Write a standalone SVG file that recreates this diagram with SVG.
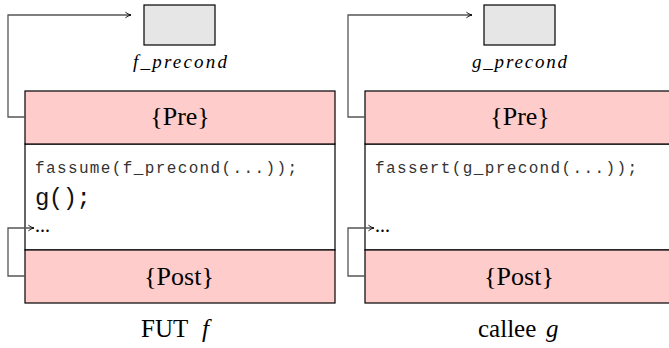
<svg xmlns="http://www.w3.org/2000/svg" width="669" height="348" viewBox="0 0 669 348">
<defs>
<marker id="arr" viewBox="0 0 10 10" refX="9" refY="5" markerWidth="8" markerHeight="8" markerUnits="userSpaceOnUse" orient="auto">
<path d="M2,1.5 Q5,4 9,5 Q5,6 2,8.5" fill="none" stroke="#000" stroke-width="1.1"/>
</marker>
<style>
.band{fill:#ffcccc;stroke:#000;stroke-width:1.2}
.body{fill:#fff;stroke:#000;stroke-width:1.2}
.grey{fill:#e6e6e6;stroke:#000;stroke-width:1.2}
.conn{fill:none;stroke:#555;stroke-width:1.3;marker-end:url(#arr)}
.tm{font-family:"Liberation Serif",serif;font-size:26px;fill:#000;text-anchor:middle}
.cap{font-family:"Liberation Serif",serif;font-size:25px;fill:#000}
.code{font-family:"Liberation Mono",monospace;font-size:16px;fill:#333}
.codeb{font-family:"Liberation Mono",monospace;font-size:24px;fill:#111}
.lbl{font-family:"Liberation Serif",serif;font-style:italic;font-size:19px;fill:#000}
.dots{font-family:"Liberation Serif",serif;font-size:20px;fill:#000}
</style>
</defs>
<g id="f_precond">
<rect class="grey" x="144" y="5" width="71" height="40"/>
<text class="lbl" x="133" y="68" textLength="94" lengthAdjust="spacing">f_precond</text>
</g>
<g id="g_precond">
<rect class="grey" x="484" y="5" width="71" height="40"/>
<text class="lbl" x="472" y="68" textLength="95" lengthAdjust="spacing">g_precond</text>
</g>
<g id="fut_f">
<rect class="body" x="25" y="144" width="310" height="106"/>
<rect class="band" x="25" y="91" width="310" height="53"/>
<rect class="band" x="25" y="250" width="310" height="53"/>
<text class="tm" x="180" y="125">{Pre}</text>
<text class="tm" x="179" y="285">{Post}</text>
<text class="code" x="35" y="173" textLength="262" lengthAdjust="spacing">fassume(f_precond(...));</text>
<text class="codeb" x="35" y="205" textLength="56" lengthAdjust="spacing">g();</text>
<text class="dots" x="35" y="232">...</text>
<text class="cap" x="141" y="337">FUT<tspan x="202" font-style="italic">f</tspan></text>
</g>
<g id="callee_g">
<rect class="body" x="365" y="144" width="310" height="106"/>
<rect class="band" x="365" y="91" width="310" height="53"/>
<rect class="band" x="365" y="250" width="310" height="53"/>
<text class="tm" x="520" y="125">{Pre}</text>
<text class="tm" x="519" y="285">{Post}</text>
<text class="code" x="375" y="173" textLength="262" lengthAdjust="spacing">fassert(g_precond(...));</text>
<text class="dots" x="375" y="232">...</text>
<text class="cap" x="478" y="337">callee<tspan x="546" font-style="italic">g</tspan></text>
</g>
<g id="connectors">
<path class="conn" d="M25,117 H8 V15 H131"/>
<path class="conn" d="M25,276 H8 V228 H34"/>
<path class="conn" d="M365,117 H348 V15 H472"/>
<path class="conn" d="M365,276 H348 V228 H374"/>
</g>
</svg>
